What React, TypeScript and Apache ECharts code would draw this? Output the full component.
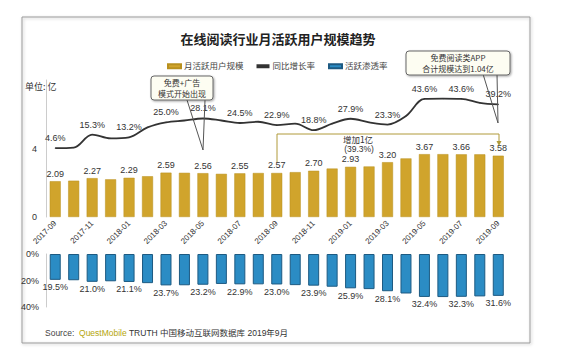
import React, { useEffect, useRef } from "react";
import * as echarts from "echarts";

const months = [
  "2017-09", "2017-10", "2017-11", "2017-12", "2018-01", "2018-02", "2018-03",
  "2018-04", "2018-05", "2018-06", "2018-07", "2018-08", "2018-09", "2018-10",
  "2018-11", "2018-12", "2019-01", "2019-02", "2019-03", "2019-04", "2019-05",
  "2019-06", "2019-07", "2019-08", "2019-09",
];
const mau = [
  2.09, 2.12, 2.27, 2.2, 2.29, 2.38, 2.59, 2.58, 2.56, 2.52, 2.55, 2.57, 2.57,
  2.62, 2.7, 2.83, 2.93, 2.95, 3.2, 3.42, 3.67, 3.67, 3.66, 3.66, 3.58,
];
const growth = [
  4.6, 5.0, 15.3, 12.3, 13.2, 21.0, 25.0, 26.5, 28.1, 26.5, 24.5, 25.5, 22.9,
  24.0, 18.8, 24.0, 27.9, 25.0, 23.3, 30.0, 43.6, 43.8, 43.6, 40.5, 39.2,
];
const penetration = [
  19.5, 19.8, 21.0, 20.6, 21.1, 22.0, 23.7, 23.6, 23.2, 22.6, 22.9, 22.9, 23.0,
  23.5, 23.9, 24.7, 25.9, 26.5, 28.1, 29.8, 32.4, 32.5, 32.3, 32.0, 31.6,
];
const leftTicks = [0, 4];
const pctTicks = [0, 20, 40];

const FONT = "'Liberation Sans', 'Noto Sans CJK SC', sans-serif";
const GOLD = "#d0a42c";
const BLUE = "#2b8cc4";

export default function App() {
  const ref = useRef<HTMLDivElement>(null);
  useEffect(() => {
    const chart = echarts.init(ref.current!, null, { renderer: "svg" });
    const showEvery = (i: number) => i % 2 === 0;
    const calloutStyle = {
      fill: "#fdfdf2",
      stroke: "#666",
      lineWidth: 1,
      shadowBlur: 2,
      shadowColor: "rgba(0,0,0,0.35)",
      shadowOffsetX: 1,
      shadowOffsetY: 1,
    };
    chart.setOption({
      animation: false,
      backgroundColor: "#fff",
      textStyle: { fontFamily: FONT },
      legend: {
        top: 57,
        left: 162,
        itemWidth: 13,
        itemHeight: 4,
        itemGap: 13,
        textStyle: { fontSize: 8.5, color: "#444", fontFamily: FONT, padding: [0, 0, 0, -2] },
        data: [
          { name: "月活跃用户规模", icon: "rect" },
          { name: "同比增长率", icon: "rect", itemStyle: { color: "#333" } },
          { name: "活跃渗透率", icon: "rect" },
        ],
      },
      grid: [
        { left: 46, top: 80, width: 461.5, height: 137 },
        { left: 46, top: 254, width: 461.5, height: 53 },
      ],
      xAxis: [
        {
          type: "category",
          gridIndex: 0,
          data: months,
          axisLine: { show: false },
          axisTick: { show: false },
          axisLabel: {
            interval: 1,
            rotate: 45,
            fontSize: 8,
            color: "#333",
            margin: 5,
            fontFamily: FONT,
          },
        },
        { type: "category", gridIndex: 1, data: months, show: false },
      ],
      yAxis: [
        {
          type: "value",
          gridIndex: 0,
          min: 0,
          max: 8,
          interval: 4,
          axisLine: { show: true, lineStyle: { color: "#ccc" } },
          axisTick: { show: false },
          splitLine: { show: false },
          axisLabel: {
            fontSize: 9,
            color: "#333",
            margin: 9,
            formatter: (v: number) => (leftTicks.includes(v) ? String(v) : ""),
          },
        },
        { type: "value", gridIndex: 0, min: -50, max: 58.6, show: false },
        {
          type: "value",
          gridIndex: 1,
          min: 0,
          max: 40,
          interval: 20,
          inverse: true,
          axisLine: { show: true, lineStyle: { color: "#ccc" } },
          axisTick: { show: false },
          splitLine: { show: false },
          axisLabel: {
            fontSize: 9,
            color: "#333",
            margin: 7,
            formatter: (v: number) => (pctTicks.includes(v) ? v + "%" : ""),
          },
        },
      ],
      series: [
        {
          name: "月活跃用户规模",
          type: "bar",
          xAxisIndex: 0,
          yAxisIndex: 0,
          data: mau,
          barWidth: 11,
          itemStyle: { color: GOLD, borderColor: "#b8901e", borderWidth: 0.5 },
          label: {
            show: true,
            position: "top",
            distance: 3,
            fontSize: 9,
            color: "#333",
            formatter: (p: any) => (showEvery(p.dataIndex) ? p.value.toFixed(2) : ""),
          },
          z: 2,
        },
        {
          name: "同比增长率",
          type: "line",
          xAxisIndex: 0,
          yAxisIndex: 1,
          data: growth,
          smooth: 0.35,
          symbol: "circle",
          symbolSize: 1,
          itemStyle: { color: "#333" },
          lineStyle: { color: "#333", width: 1.8 },
          label: {
            show: true,
            position: "top",
            distance: 5,
            fontSize: 9,
            color: "#333",
            formatter: (p: any) => (showEvery(p.dataIndex) ? p.value.toFixed(1) + "%" : ""),
          },
          z: 3,
        },
        {
          name: "活跃渗透率",
          type: "bar",
          xAxisIndex: 1,
          yAxisIndex: 2,
          data: penetration,
          barWidth: 11,
          itemStyle: { color: BLUE, borderColor: "#1d5a82", borderWidth: 1 },
          label: {
            show: true,
            position: "bottom",
            distance: 3,
            fontSize: 9,
            color: "#333",
            formatter: (p: any) => (showEvery(p.dataIndex) ? p.value.toFixed(1) + "%" : ""),
          },
        },
      ],
      graphic: [
        {
          type: "rect",
          shape: { x: 22, y: 17, width: 508, height: 326 },
          style: {
            fill: "none",
            stroke: "#999",
            lineWidth: 1,
            shadowBlur: 3,
            shadowColor: "rgba(0,0,0,0.25)",
            shadowOffsetX: 1,
            shadowOffsetY: 1,
          },
          z: 0,
        },
        {
          type: "text",
          x: 278,
          y: 38,
          style: {
            text: "在线阅读行业月活跃用户规模趋势",
            fill: "#222",
            align: "center",
            verticalAlign: "middle",
            font: "bold 13px 'Noto Sans CJK SC', sans-serif",
          },
        },
        {
          type: "text",
          x: 25,
          y: 86,
          style: {
            text: "单位: 亿",
            fill: "#333",
            verticalAlign: "middle",
            font: "9px 'Noto Sans CJK SC', sans-serif",
          },
        },
        // left callout pointer (thin wedge, unfilled)
        {
          type: "polyline",
          shape: { points: [[187, 100], [203, 150], [205, 100]] },
          style: { fill: "none", stroke: "#555", lineWidth: 1 },
          z: 20,
        },
        {
          type: "rect",
          shape: { x: 151, y: 76, width: 62, height: 24, r: 3 },
          style: calloutStyle,
          z: 21,
        },
        {
          type: "text",
          x: 182,
          y: 82,
          style: {
            text: "免费+广告",
            fill: "#333",
            align: "center",
            verticalAlign: "middle",
            font: "8px 'Noto Sans CJK SC', sans-serif",
          },
          z: 22,
        },
        {
          type: "text",
          x: 182,
          y: 93.5,
          style: {
            text: "模式开始出现",
            fill: "#333",
            align: "center",
            verticalAlign: "middle",
            font: "8px 'Noto Sans CJK SC', sans-serif",
          },
          z: 22,
        },
        // right callout pointer
        {
          type: "polyline",
          shape: { points: [[483, 74], [498, 123], [497, 74]] },
          style: { fill: "none", stroke: "#555", lineWidth: 1 },
          z: 20,
        },
        {
          type: "rect",
          shape: { x: 406, y: 51, width: 104, height: 24, r: 3 },
          style: calloutStyle,
          z: 21,
        },
        {
          type: "text",
          x: 458,
          y: 57,
          style: {
            text: "免费阅读类APP",
            fill: "#333",
            align: "center",
            verticalAlign: "middle",
            font: "8px 'Noto Sans CJK SC', sans-serif",
          },
          z: 22,
        },
        {
          type: "text",
          x: 458,
          y: 68.5,
          style: {
            text: "合计规模达到1.04亿",
            fill: "#333",
            align: "center",
            verticalAlign: "middle",
            font: "8px 'Noto Sans CJK SC', sans-serif",
          },
          z: 22,
        },
        // bracket
        {
          type: "polyline",
          shape: { points: [[277, 162], [277, 134], [499, 134], [499, 142]] },
          style: { stroke: "#b09a3a", lineWidth: 1, fill: "none" },
          z: 20,
        },
        {
          type: "polygon",
          shape: { points: [[496.5, 141], [501.5, 141], [499, 146]] },
          style: { fill: "#b09a3a" },
          z: 20,
        },
        {
          type: "text",
          x: 358,
          y: 139,
          style: {
            text: "增加1亿",
            fill: "#333",
            align: "center",
            verticalAlign: "middle",
            font: "8.5px 'Noto Sans CJK SC', sans-serif",
          },
          z: 20,
        },
        {
          type: "text",
          x: 359,
          y: 148.5,
          style: {
            text: "(39.3%)",
            fill: "#333",
            align: "center",
            verticalAlign: "middle",
            font: "8.5px 'Liberation Sans', sans-serif",
          },
          z: 20,
        },
        {
          type: "text",
          x: 45,
          y: 333,
          style: {
            text: "{a|Source:  }{b|QuestMobile}{c| TRUTH 中国移动互联网数据库 2019年9月}",
            verticalAlign: "middle",
            rich: {
              a: { fill: "#444", fontSize: 8.5, fontFamily: FONT },
              b: { fill: "#b5a60c", fontSize: 8.5, fontFamily: FONT },
              c: { fill: "#333", fontSize: 8.5, fontFamily: FONT },
            },
          },
        },
      ],
    });
    return () => chart.dispose();
  }, []);
  return (
    <div
      ref={ref}
      style={{ position: "fixed", left: 0, top: 0, width: 565, height: 364, background: "#fff" }}
    />
  );
}
